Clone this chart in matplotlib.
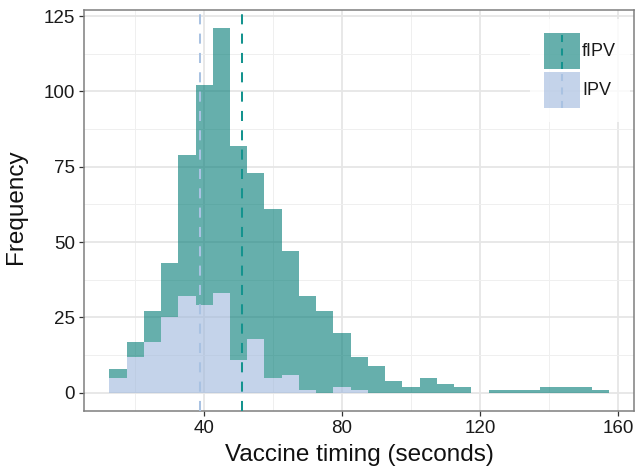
import matplotlib
matplotlib.use("Agg")
import matplotlib.pyplot as plt
import numpy as np
from matplotlib.patches import Rectangle, Patch
from matplotlib.lines import Line2D
from matplotlib.legend_handler import HandlerBase
from matplotlib.ticker import MultipleLocator

# ---- data ----
bin_centers = list(range(15, 160, 5))      # bin width 5 seconds
fipv_counts = [3, 5, 10, 18, 47, 73, 88, 71, 55, 56, 41, 31, 27, 18, 11, 9, 4, 2,
               5, 3, 2, 0, 1, 1, 1, 2, 2, 2, 1]
ipv_counts = [5, 12, 17, 25, 32, 29, 33, 11, 18, 5, 6, 1, 0, 2, 1, 0, 0, 0,
              0, 0, 0, 0, 0, 0, 0, 0, 0, 0, 0]
series_names = ["fIPV", "IPV"]
fipv_mean = 51.0
ipv_mean = 38.9
x_ticks = [40, 80, 120, 160]
y_ticks = [0, 25, 50, 75, 100, 125]

# ---- styles ----
teal_fill = "#007b75"
teal_line = "#14938e"
blue_fill = "#9eb7dc"
blue_line = "#a9c2e2"
fill_alpha = 0.6
bin_width = 5

plt.rcParams['font.family'] = ['Liberation Sans', 'DejaVu Sans']

W, H = 638, 475
L, R, T, B = 84.3, 634.3, 10, 411
fig = plt.figure(figsize=(W / 100, H / 100), dpi=100)
ax = fig.add_axes([L / W, 1 - B / H, (R - L) / W, (B - T) / H])

x = np.array(bin_centers, dtype=float)
ipv = np.array(ipv_counts, dtype=float)
fipv = np.array(fipv_counts, dtype=float)

ax.bar(x, ipv, width=bin_width, color=blue_fill, alpha=fill_alpha, linewidth=0)
ax.bar(x, fipv, width=bin_width, bottom=ipv, color=teal_fill, alpha=fill_alpha, linewidth=0)

dash = (0, (5, 4.6))
ax.axvline(ipv_mean, color=blue_line, lw=1.45, ls=dash, zorder=3)
ax.axvline(fipv_mean, color=teal_line, lw=1.45, ls=dash, zorder=3)

# limits like ggplot expansion
lo = x[0] - bin_width / 2
hi = x[-1] + bin_width / 2
rng = hi - lo
ax.set_xlim(lo - 0.05 * rng, hi + 0.05 * rng)
ymax = float(np.max(ipv + fipv))
ax.set_ylim(-0.05 * ymax, ymax * 1.05)

ax.set_xticks(x_ticks)
ax.set_yticks(y_ticks)
ax.xaxis.set_minor_locator(MultipleLocator(20))
ax.yaxis.set_minor_locator(MultipleLocator(12.5))
ax.tick_params(axis='both', which='minor', length=0)
ax.tick_params(axis='both', which='major', length=3.8, width=0.9, color="#333333",
               labelsize=13.5, labelcolor="#1a1a1a", pad=3)

ax.set_axisbelow(True)
ax.grid(which='major', color="#e6e6e6", lw=1.3)
ax.grid(which='minor', color="#efefef", lw=0.7)

for s in ax.spines.values():
    s.set_color("#7f7f7f")
    s.set_linewidth(1.1)

ax.set_xlabel("Vaccine timing (seconds)", fontsize=17.5, color="#111111")
ax.set_ylabel("Frequency", fontsize=17.5, color="#111111")
ax.xaxis.set_label_coords(0.5, (B - 444.5) / (B - T))
ax.yaxis.set_label_coords((26.5 - L) / (R - L), (B - 207) / (B - T))


class KeyHandler(HandlerBase):
    def __init__(self, face, line_color):
        super().__init__()
        self.face = face
        self.line_color = line_color

    def create_artists(self, legend, orig_handle, xdescent, ydescent, width, height,
                       fontsize, trans):
        r = Rectangle((-xdescent, -ydescent), width, height, facecolor=self.face,
                      alpha=fill_alpha, linewidth=0, transform=trans)
        cx = -xdescent + width / 2
        l = Line2D([cx, cx], [-ydescent, -ydescent + height], color=self.line_color,
                   lw=1.45, ls=(0, (3.5, 3.2)), transform=trans)
        return [r, l]


h_f = Patch(label=series_names[0])
h_i = Patch(label=series_names[1])
leg = ax.legend(handles=[h_f, h_i], labels=series_names,
                handler_map={h_f: KeyHandler(teal_fill, teal_line),
                             h_i: KeyHandler(blue_fill, blue_line)},
                loc='upper left', bbox_to_anchor=((530 - L) / (R - L), (B - 19) / (B - T)),
                fontsize=13, handlelength=2.0, handleheight=2.69, labelspacing=0.17,
                handletextpad=0.12, borderpad=0.77, frameon=True, fancybox=False,
                borderaxespad=0)
leg.get_frame().set_facecolor("white")
leg.get_frame().set_edgecolor("none")
for t in leg.get_texts():
    t.set_color("#1a1a1a")

fig.savefig("out.png", dpi=100)
